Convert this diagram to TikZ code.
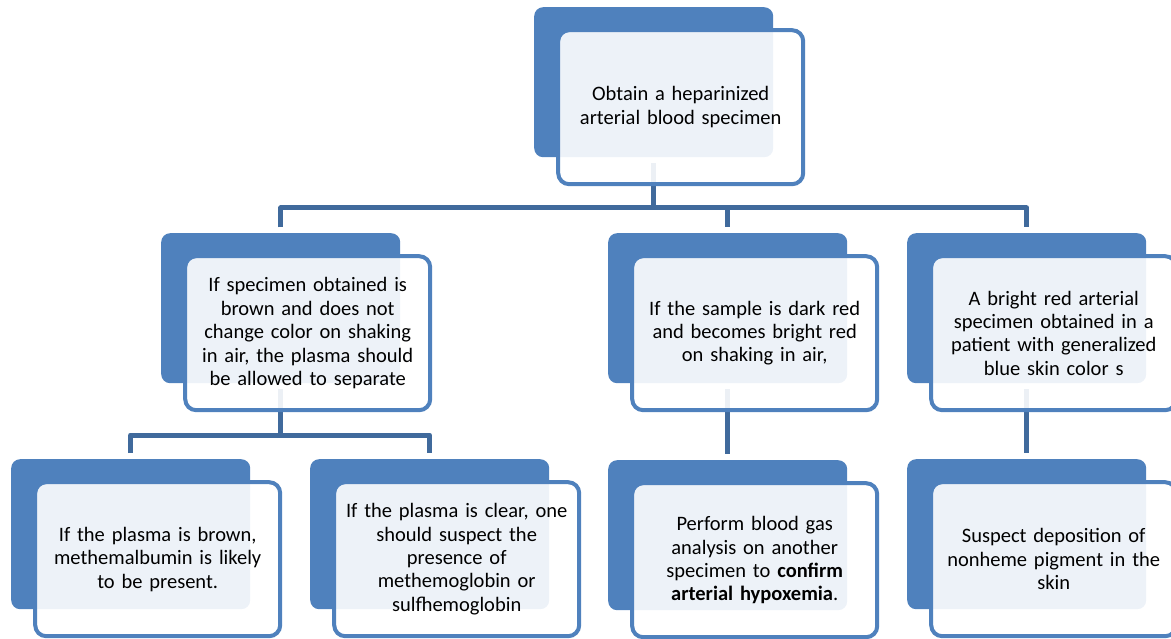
\documentclass[tikz,border=0pt]{standalone}
\usepackage{fontspec}
\setmainfont{Carlito}
\definecolor{accent}{RGB}{79,129,189}
\definecolor{connblue}{RGB}{64,106,156}
\begin{document}
\begin{tikzpicture}[x=1pt,y=-1pt,
  backbox/.style={fill=accent, rounded corners=9pt, inner sep=0pt,
    minimum width=239pt, minimum height=150pt, anchor=north west},
  frontbox/.style={draw=accent, line width=4pt, fill=white, fill opacity=0.9,
    text opacity=1, rounded corners=11pt, inner sep=0pt,
    minimum width=245pt, minimum height=154pt, text width=238pt, align=center,
    font=\fontsize{20.5pt}{23.4pt}\selectfont},
  connector/.style={draw=connblue, line width=5pt, line join=round}]
\clip (0,0) rectangle (1171,639);
\useasboundingbox (0,0) rectangle (1171,639);
% back boxes
\node[backbox] (b0) at (534,7) {};
\node[backbox] (bL) at (161,233) {};
\node[backbox] (bM) at (608,233) {};
\node[backbox] (bR) at (907,233) {};
\node[backbox] (bA) at (11,459) {};
\node[backbox] (bB) at (310,459) {};
\node[backbox] (bC) at (608,460) {};
\node[backbox] (bD) at (907,459) {};
% connectors
\coordinate (h1) at (0,208);
\coordinate (h2) at (0,435);
\draw[connector] ([yshift=-6pt]b0.south) -- (b0.south |- h1);
\draw[connector] ([yshift=5.5pt]bL.north) -- (bL.north |- h1) -- (bR.north |- h1) -- ([yshift=5.5pt]bR.north);
\draw[connector] (bM.north |- h1) -- ([yshift=5.5pt]bM.north);
\draw[connector] ([yshift=-6pt]bL.south) -- (bL.south |- h2);
\draw[connector] ([yshift=6pt]bA.north) -- (bA.north |- h2) -- (bB.north |- h2) -- ([yshift=6pt]bB.north);
\draw[connector] ([yshift=-6pt]bM.south) -- ([yshift=6pt]bC.north);
\draw[connector] ([yshift=-6pt]bR.south) -- ([yshift=6pt]bD.north);
% front boxes
\node[frontbox] (f0) at ([xshift=27pt,yshift=-25pt]b0.center) {Obtain a heparinized\\arterial blood specimen};
\node[frontbox] (fL) at ([xshift=27pt,yshift=-25pt]bL.center) {If specimen obtained is\\brown and does not\\change color on shaking\\in air, the plasma should\\be allowed to separate};
\node[frontbox] (fM) at ([xshift=27pt,yshift=-25pt]bM.center) {If the sample is dark red\\and becomes bright red\\on shaking in air,};
\node[frontbox] (fR) at ([xshift=27pt,yshift=-25pt]bR.center) {A bright red arterial\\specimen obtained in a\\patient with generalized\\blue skin color s};
\node[frontbox] (fA) at ([xshift=27pt,yshift=-25pt]bA.center) {If the plasma is brown,\\methemalbumin is likely\\to be present.};
\node[frontbox] (fB) at ([xshift=27pt,yshift=-25pt]bB.center) {If the plasma is clear, one\\should suspect the\\presence of\\methemoglobin or\\sulfhemoglobin};
\node[frontbox] (fC) at ([xshift=27pt,yshift=-25pt]bC.center) {Perform blood gas\\analysis on another\\specimen to \textbf{confirm}\\\textbf{arterial hypoxemia}.};
\node[frontbox] (fD) at ([xshift=27pt,yshift=-25pt]bD.center) {Suspect deposition of\\nonheme pigment in the\\skin};
\end{tikzpicture}
\end{document}
